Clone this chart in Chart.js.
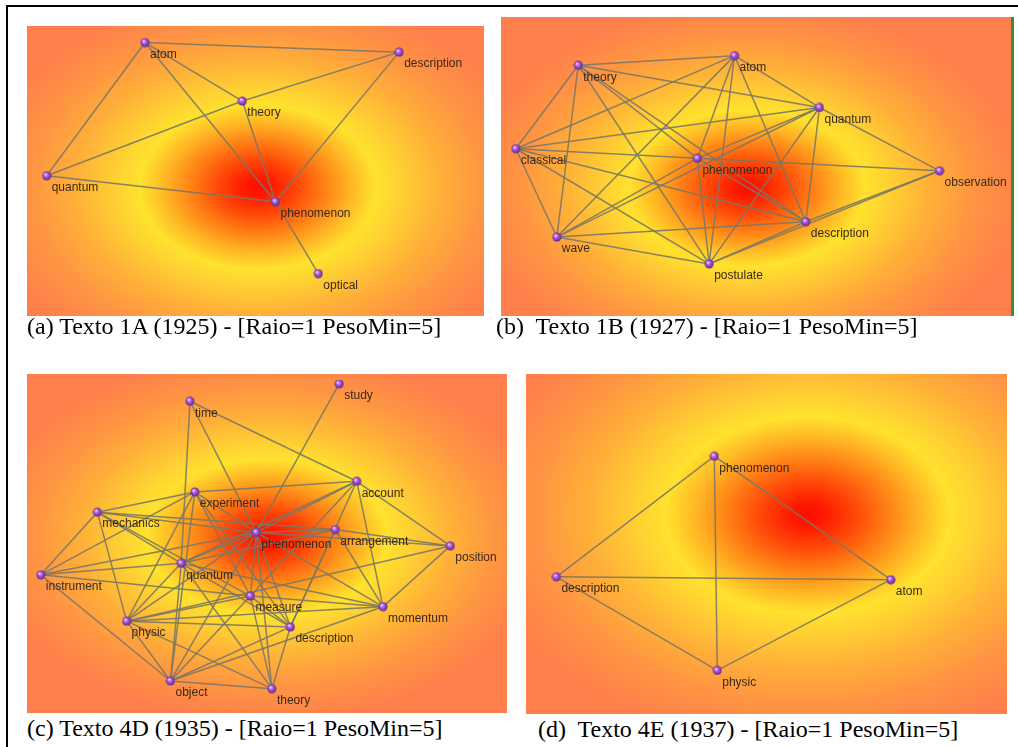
<!DOCTYPE html>
<html>
<head>
<meta charset="utf-8">
<script src="https://cdn.jsdelivr.net/npm/chart.js@4.4.0/dist/chart.umd.min.js"></script>
<style>
body { margin: 0; background: #fff; width: 1018px; height: 747px; overflow: hidden; position: relative; }
#frame { position: absolute; left: 6px; top: 5px; width: 1100px; height: 800px; border: 2px solid #000; }
.panel { position: absolute; }
.panel canvas { display: block; }
.cap { position: absolute; font-family: "Liberation Serif", "Times New Roman", serif; font-size: 24px; line-height: 24px; color: #000; white-space: pre; }
</style>
</head>
<body>
<div id="frame"></div>

<div class="panel" style="left:27px;top:26px"><canvas id="chartA" width="457" height="290"></canvas></div>
<div class="panel" style="left:501px;top:17px;border-right:3px solid #3f8a3a"><canvas id="chartB" width="510" height="299"></canvas></div>
<div class="panel" style="left:27px;top:374px"><canvas id="chartC" width="480" height="339"></canvas></div>
<div class="panel" style="left:526px;top:374px"><canvas id="chartD" width="481" height="340"></canvas></div>

<div class="cap" style="left:27px;top:314px">(a) Texto 1A (1925) - [Raio=1 PesoMin=5]</div>
<div class="cap" style="left:496px;top:314px">(b)  Texto 1B (1927) - [Raio=1 PesoMin=5]</div>
<div class="cap" style="left:27px;top:716px">(c) Texto 4D (1935) - [Raio=1 PesoMin=5]</div>
<div class="cap" style="left:538px;top:717px">(d)  Texto 4E (1937) - [Raio=1 PesoMin=5]</div>

<script>
// (a) Texto 1A - node positions (x right, y down)
const nodesA = ['atom', 'description', 'theory', 'quantum', 'phenomenon', 'optical'];
const xA = [115, 376, 215, 14, 249, 293];
const yA = [11, 21, 72, 150, 177, 252];
const edgesA = [
    ['atom', 'description'], ['atom', 'quantum'], ['atom', 'theory'], ['atom', 'phenomenon'],
    ['theory', 'phenomenon'], ['theory', 'description'], ['quantum', 'theory'],
    ['description', 'phenomenon'], ['quantum', 'phenomenon'], ['phenomenon', 'optical']
];

// (b) Texto 1B
const nodesB = ['atom', 'theory', 'quantum', 'classical', 'phenomenon', 'observation', 'description', 'wave', 'postulate'];
const xB = [233, 73, 320, 9, 195, 443, 306, 51, 207];
const yB = [34, 44, 88, 131, 141, 154, 207, 223, 251];
const edgesB = [
    ['theory', 'atom'], ['theory', 'quantum'], ['theory', 'classical'], ['theory', 'wave'], ['theory', 'phenomenon'], ['theory', 'postulate'], ['theory', 'description'],
    ['atom', 'quantum'], ['atom', 'classical'], ['atom', 'wave'], ['atom', 'phenomenon'], ['atom', 'postulate'], ['atom', 'description'],
    ['quantum', 'classical'], ['quantum', 'phenomenon'], ['quantum', 'wave'], ['quantum', 'observation'], ['quantum', 'description'], ['quantum', 'postulate'],
    ['classical', 'phenomenon'], ['classical', 'description'], ['classical', 'wave'], ['classical', 'postulate'],
    ['phenomenon', 'observation'], ['phenomenon', 'wave'], ['phenomenon', 'postulate'], ['phenomenon', 'description'],
    ['wave', 'description'], ['wave', 'postulate'],
    ['description', 'observation'], ['postulate', 'observation'], ['postulate', 'description']
];

// (c) Texto 4D
const nodesC = ['study', 'time', 'account', 'experiment', 'mechanics', 'arrangement', 'phenomenon', 'position',
    'quantum', 'instrument', 'measure', 'momentum', 'physic', 'description', 'object', 'theory'];
const xC = [314, 161, 332, 166, 66, 310, 229, 428, 152, 8, 223, 359, 96, 264, 141, 245];
const yC = [4, 22, 105, 116, 137, 155, 158, 172, 190, 202, 224, 235, 250, 256, 312, 320];
const edgesC = [
    ['study', 'phenomenon'],
    ['time', 'quantum'], ['time', 'account'], ['time', 'phenomenon'],
    ['account', 'experiment'], ['account', 'phenomenon'], ['account', 'quantum'], ['account', 'position'], ['account', 'momentum'], ['account', 'measure'], ['account', 'description'],
    ['experiment', 'mechanics'], ['experiment', 'instrument'], ['experiment', 'phenomenon'], ['experiment', 'physic'], ['experiment', 'measure'], ['experiment', 'description'], ['experiment', 'object'],
    ['mechanics', 'phenomenon'], ['mechanics', 'quantum'], ['mechanics', 'measure'], ['mechanics', 'physic'], ['mechanics', 'arrangement'], ['mechanics', 'instrument'],
    ['arrangement', 'position'], ['arrangement', 'phenomenon'], ['arrangement', 'momentum'], ['arrangement', 'description'], ['arrangement', 'quantum'],
    ['phenomenon', 'quantum'], ['phenomenon', 'instrument'], ['phenomenon', 'physic'], ['phenomenon', 'measure'], ['phenomenon', 'description'], ['phenomenon', 'object'], ['phenomenon', 'theory'], ['phenomenon', 'momentum'], ['phenomenon', 'position'],
    ['position', 'physic'], ['position', 'momentum'],
    ['quantum', 'instrument'], ['quantum', 'physic'], ['quantum', 'object'], ['quantum', 'theory'], ['quantum', 'momentum'], ['quantum', 'description'],
    ['instrument', 'measure'], ['instrument', 'object'],
    ['measure', 'physic'], ['measure', 'momentum'], ['measure', 'object'], ['measure', 'theory'], ['measure', 'description'],
    ['momentum', 'physic'], ['momentum', 'object'],
    ['description', 'physic'], ['description', 'object'], ['description', 'theory'],
    ['physic', 'theory'], ['physic', 'object'], ['object', 'theory']
];

// (d) Texto 4E
const nodesD = ['phenomenon', 'description', 'atom', 'physic'];
const xD = [187, 25, 368, 190];
const yD = [79, 204, 207, 301];
const edgesD = [
    ['phenomenon', 'description'], ['phenomenon', 'atom'], ['phenomenon', 'physic'],
    ['description', 'atom'], ['description', 'physic'], ['atom', 'physic']
];

// little purple ball used as point style
function makeBall() {
    const c = document.createElement('canvas');
    c.width = 10; c.height = 10;
    const g = c.getContext('2d');
    const gr = g.createRadialGradient(3.6, 3.4, 0.4, 5, 5, 4.8);
    gr.addColorStop(0, '#f2d0ff');
    gr.addColorStop(0.35, '#b060e0');
    gr.addColorStop(1, '#5c2086');
    g.fillStyle = gr;
    g.beginPath();
    g.arc(5, 5, 4.5, 0, Math.PI * 2);
    g.fill();
    return c;
}
const ball = makeBall();

// heat-map style background (elliptical radial glow)
const heatPlugin = {
    id: 'heat',
    beforeDraw(chart, args, opts) {
        const ctx = chart.ctx;
        const cx = chart.scales.x.getPixelForValue(opts.cx);
        const cy = chart.scales.y.getPixelForValue(opts.cy);
        const rx = opts.rx / 0.42, ry = opts.ry / 0.42;
        const k = ry / rx;
        ctx.save();
        ctx.translate(cx, cy);
        ctx.scale(1, k);
        const gr = ctx.createRadialGradient(0, 0, 0, 0, 0, rx);
        gr.addColorStop(0, '#ff0c00');
        gr.addColorStop(0.05, '#ff1a00');
        gr.addColorStop(0.14, '#ff4808');
        gr.addColorStop(0.24, '#ff8216');
        gr.addColorStop(0.33, '#ffb524');
        gr.addColorStop(0.42, '#ffe22e');
        gr.addColorStop(0.5, '#ffd232');
        gr.addColorStop(0.65, '#ffb038');
        gr.addColorStop(0.8, '#ff9642');
        gr.addColorStop(1, '#ff7e4c');
        ctx.fillStyle = gr;
        ctx.fillRect(-cx, -cy / k, chart.width, chart.height / k);
        ctx.restore();
    }
};

// word labels next to the nodes
const labelPlugin = {
    id: 'nodeLabels',
    afterDatasetsDraw(chart, args, opts) {
        const ctx = chart.ctx;
        const ds = chart.data.datasets.find(d => d.isNodes);
        ctx.save();
        ctx.font = '12px "Liberation Sans", Arial, sans-serif';
        ctx.fillStyle = '#3a2818';
        ctx.textBaseline = 'middle';
        ds.data.forEach(p => {
            const px = chart.scales.x.getPixelForValue(p.x);
            const py = chart.scales.y.getPixelForValue(p.y);
            ctx.fillText(p.name, px + 5, py + 12);
        });
        ctx.restore();
    }
};

function makeGraph(id, nodes, xs, ys, edges, glow) {
    const canvas = document.getElementById(id);
    const pos = {};
    nodes.forEach((n, i) => { pos[n] = { x: xs[i], y: ys[i], name: n }; });

    const edgeSets = edges.map(e => ({
        data: [pos[e[0]], pos[e[1]]],
        showLine: true,
        borderColor: 'rgba(124, 120, 100, 0.9)',
        borderWidth: 1.5,
        pointRadius: 0,
        fill: false,
        order: 1
    }));

    const nodeSet = {
        isNodes: true,
        data: nodes.map(n => pos[n]),
        pointStyle: ball,
        pointRadius: 5,
        showLine: false,
        order: 0
    };

    return new Chart(canvas.getContext('2d'), {
        type: 'scatter',
        data: { datasets: edgeSets.concat([nodeSet]) },
        options: {
            responsive: false,
            animation: false,
            events: [],
            layout: { padding: 0 },
            scales: {
                x: { display: false, min: 0, max: canvas.width },
                y: { display: false, min: 0, max: canvas.height, reverse: true }
            },
            plugins: {
                legend: { display: false },
                tooltip: { enabled: false },
                heat: glow
            }
        },
        plugins: [heatPlugin, labelPlugin]
    });
}

makeGraph('chartA', nodesA, xA, yA, edgesA, { cx: 231, cy: 162, rx: 118, ry: 82 });
makeGraph('chartB', nodesB, xB, yB, edgesB, { cx: 246, cy: 172, rx: 118, ry: 78 });
makeGraph('chartC', nodesC, xC, yC, edgesC, { cx: 240, cy: 163, rx: 120, ry: 78 });
makeGraph('chartD', nodesD, xD, yD, edgesD, { cx: 283, cy: 140, rx: 142, ry: 98 });
</script>
</body>
</html>
